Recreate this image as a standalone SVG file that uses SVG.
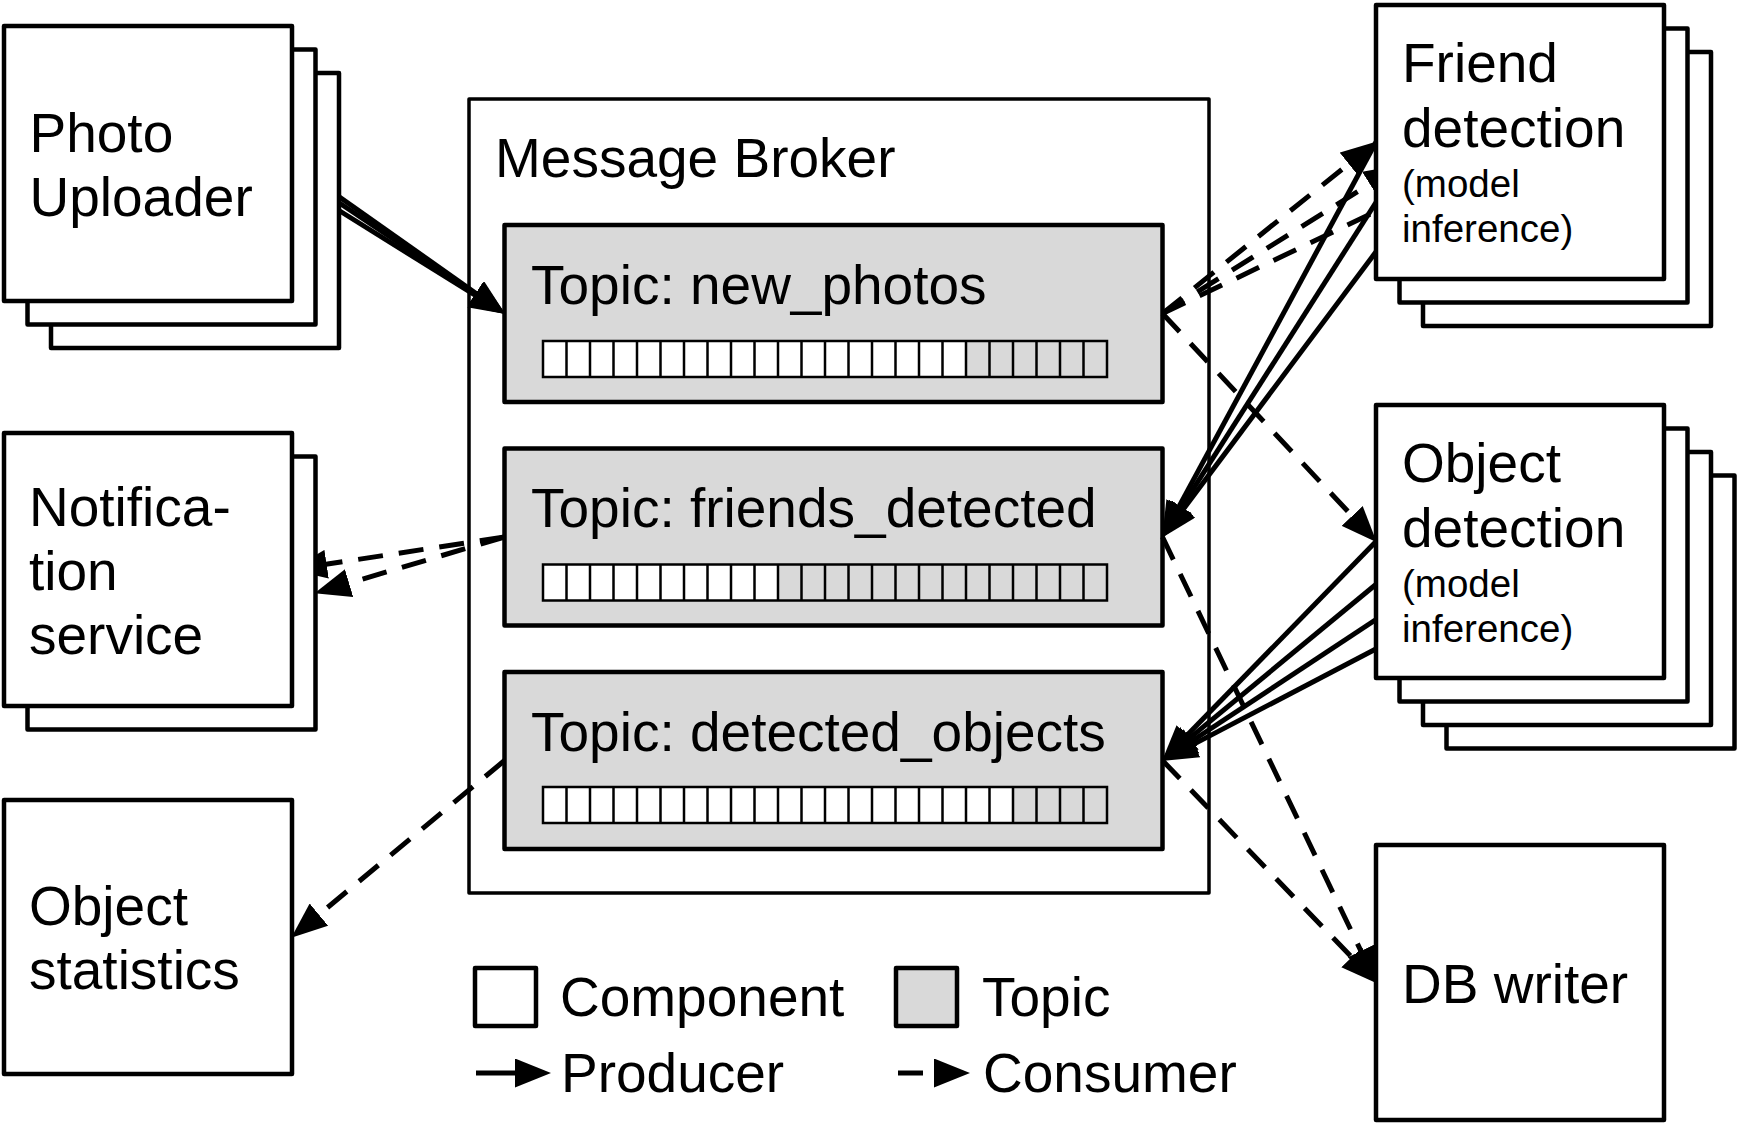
<svg xmlns="http://www.w3.org/2000/svg" width="1739" height="1124" viewBox="0 0 1739 1124">
<style>
text{font-family:"Liberation Sans",Arial,Helvetica,sans-serif;font-size:55px;fill:#000}
.small{font-size:38.5px}
.comp{fill:#fff;stroke:#000;stroke-width:4.5;stroke-linejoin:round}
.topic{fill:#d9d9d9;stroke:#000;stroke-width:4.5;stroke-linejoin:round}
.broker{fill:none;stroke:#000;stroke-width:3.5;stroke-linejoin:round}
.bar{fill:none;stroke:#000;stroke-width:2.5}
.full{fill:#fff;stroke:none}
.prod{fill:none;stroke:#000;stroke-width:5;marker-end:url(#ah)}
.cons{fill:none;stroke:#000;stroke-width:5;stroke-dasharray:25 16;marker-end:url(#ah)}
</style>
<defs>
<marker id="ah" markerUnits="userSpaceOnUse" markerWidth="36" markerHeight="29" viewBox="0 0 36 29" refX="25" refY="14.5" orient="auto"><path d="M0,0 L36,14.5 L0,29 z" fill="#000"/></marker>
<path id="div" class="bar" d="M23.5,0V36M47,0V36M70.5,0V36M94,0V36M117.5,0V36M141,0V36M164.5,0V36M188,0V36M211.5,0V36M235,0V36M258.5,0V36M282,0V36M305.5,0V36M329,0V36M352.5,0V36M376,0V36M399.5,0V36M423,0V36M446.5,0V36M470,0V36M493.5,0V36M517,0V36M540.5,0V36"/>
</defs>
<rect width="1739" height="1124" fill="#fff"/>

<g id="message-broker">
<rect class="broker" x="469" y="99" width="740" height="794"/>
<text x="495" y="177">Message Broker</text>
</g>

<g id="topic-new-photos">
<rect class="topic" x="504.5" y="225" width="658" height="177"/>
<text x="531" y="304">Topic: new_photos</text>
<rect class="full" x="543" y="341" width="423" height="36"/>
<rect class="bar" x="543" y="341" width="564" height="36"/>
<use href="#div" x="543" y="341"/>
</g>

<g id="topic-friends-detected">
<rect class="topic" x="504.5" y="448.5" width="658" height="177"/>
<text x="531" y="527">Topic: friends_detected</text>
<rect class="full" x="543" y="564.5" width="235" height="36"/>
<rect class="bar" x="543" y="564.5" width="564" height="36"/>
<use href="#div" x="543" y="564.5"/>
</g>

<g id="topic-detected-objects">
<rect class="topic" x="504.5" y="672" width="658" height="177"/>
<text x="531" y="751">Topic: detected_objects</text>
<rect class="full" x="543" y="787" width="470" height="36"/>
<rect class="bar" x="543" y="787" width="564" height="36"/>
<use href="#div" x="543" y="787"/>
</g>

<g id="connectors">
<path class="prod" d="M292,163.5L496.3,307.7"/>
<path class="prod" d="M315.5,187L496.2,307.9"/>
<path class="prod" d="M339,210.5L496,308.2"/>
<path class="cons" d="M1162.5,313.5L1368.2,148.3"/>
<path class="cons" d="M1162.5,313.5L1391,170.8"/>
<path class="cons" d="M1162.5,313.5L1414,193.3"/>
<path class="cons" d="M1162.5,313.5L1369.2,534.2"/>
<path class="prod" d="M1376,142L1167.3,528.2"/>
<path class="prod" d="M1399.5,165.5L1167.9,528.6"/>
<path class="prod" d="M1423,189L1168.5,529"/>
<path class="cons" d="M504.5,537L301.9,568"/>
<path class="cons" d="M504.5,537L325.1,590.2"/>
<path class="cons" d="M1162.5,537L1371.7,973.5"/>
<path class="prod" d="M1376,541.5L1169.5,753.3"/>
<path class="prod" d="M1399.5,565L1170.2,754.1"/>
<path class="prod" d="M1423,588.5L1170.8,755"/>
<path class="prod" d="M1446.5,612L1171.4,755.9"/>
<path class="cons" d="M504.5,760.5L299.7,930.6"/>
<path class="cons" d="M1162.5,760.5L1369.1,975.3"/>
</g>

<g id="photo-uploader">
<rect class="comp" x="51" y="73" width="288" height="275"/>
<rect class="comp" x="27.5" y="49.5" width="288" height="275"/>
<rect class="comp" x="4" y="26" width="288" height="275"/>
<text x="29.5" y="152">Photo</text>
<text x="29.5" y="216">Uploader</text>
</g>

<g id="notification-service">
<rect class="comp" x="27.5" y="456.5" width="288" height="273"/>
<rect class="comp" x="4" y="433" width="288" height="273"/>
<text x="29" y="526">Notifica-</text>
<text x="29" y="590">tion</text>
<text x="29" y="654">service</text>
</g>

<g id="object-statistics">
<rect class="comp" x="4" y="800" width="288" height="274"/>
<text x="29" y="925">Object</text>
<text x="29" y="989">statistics</text>
</g>

<g id="friend-detection">
<rect class="comp" x="1423" y="52" width="288" height="274"/>
<rect class="comp" x="1399.5" y="28.5" width="288" height="274"/>
<rect class="comp" x="1376" y="5" width="288" height="274"/>
<text x="1402" y="81.7">Friend</text>
<text x="1402" y="146.7">detection</text>
<text class="small" x="1402" y="196.7">(model</text>
<text class="small" x="1402" y="241.7">inference)</text>
</g>

<g id="object-detection">
<rect class="comp" x="1446.5" y="475.5" width="288" height="273"/>
<rect class="comp" x="1423" y="452" width="288" height="273"/>
<rect class="comp" x="1399.5" y="428.5" width="288" height="273"/>
<rect class="comp" x="1376" y="405" width="288" height="273"/>
<text x="1402" y="481.7">Object</text>
<text x="1402" y="546.7">detection</text>
<text class="small" x="1402" y="596.7">(model</text>
<text class="small" x="1402" y="641.7">inference)</text>
</g>

<g id="db-writer">
<rect class="comp" x="1376" y="845" width="288" height="275"/>
<text x="1402" y="1003">DB writer</text>
</g>

<g id="legend">
<rect class="comp" x="475" y="968" width="61" height="58"/>
<text x="560" y="1016">Component</text>
<rect class="topic" x="896" y="968" width="61" height="58"/>
<text x="982" y="1016">Topic</text>
<path class="prod" d="M476,1073H540"/>
<text x="561" y="1092">Producer</text>
<path class="cons" d="M898,1073H959"/>
<text x="983" y="1092">Consumer</text>
</g>
</svg>
